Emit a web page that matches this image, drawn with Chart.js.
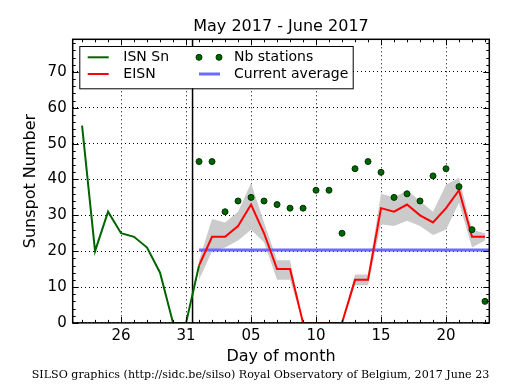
<!DOCTYPE html>
<html>
<head>
<meta charset="utf-8">
<script src="https://cdn.jsdelivr.net/npm/chart.js@4.4.1/dist/chart.umd.min.js"></script>
<style>
  html, body { margin: 0; padding: 0; background: #fff; }
  #wrap { width: 515px; height: 390px; }
</style>
</head>
<body>
<div id="wrap"><canvas id="chart" width="515" height="390"></canvas></div>
<script>
// days are counted from 1 May 2017 (June 1 = 32)
var isnDays = [23, 24, 25, 26, 27, 28, 29, 30, 31, 32];
var isnValues = [55, 20, 31, 25, 24, 21, 14, 0, 0, 16];

var eisnDays = [32, 33, 34, 35, 36, 37, 38, 39, 40, 41, 42, 43, 44, 45, 46, 47, 48, 49, 50, 51, 52, 53, 54];
var eisnValues = [16, 24, 24, 27, 33, 25, 15, 15, 0, 0, 0, 0, 12, 12, 32, 31, 33, 30, 28, 32, 37, 24, 24];
var eisnLow = [12, 20, 21, 23, 26, 22.5, 12, 12, 0, 0, 0, 0, 10.5, 10.5, 27.5, 27, 28.5, 27, 24.5, 26, 33.5, 21, 23];
var eisnHigh = [17.5, 29, 28, 31, 39, 28, 17.5, 17.5, 0, 0, 0, 0, 13.5, 13.5, 36, 35, 37, 34, 31, 38.5, 40.5, 26, 25];
var stationValues = [45, 45, 31, 34, 35, 34, 33, 32, 32, 37, 37, 25, 43, 45, 42, 35, 36, 34, 41, 43, 38, 26, 6];
var currentAverage = 20.3;
var lastIsnDay = 31.5;

var tickDays = [26, 31, 36, 41, 46, 51];
var tickLabels = ['26', '31', '05', '10', '15', '20'];
var yTicks = [0, 10, 20, 30, 40, 50, 60, 70];
var xMin = 22.28, xMax = 54.33, yMax = 79.1;

function pts(xs, ys) {
  return xs.map(function (x, i) { return {x: x, y: ys[i]}; });
}

Chart.defaults.font.family = 'DejaVu Sans';
Chart.defaults.color = '#000';

// major/minor ticks on all four sides + black frame
var frameTicks = {
  id: 'frameTicks',
  afterDatasetsDraw: function (chart) {
    var ctx = chart.ctx, a = chart.chartArea, xs = chart.scales.x, ys = chart.scales.y;
    ctx.save();
    ctx.strokeStyle = '#000';
    ctx.lineWidth = 1;
    ctx.beginPath();
    for (var d = Math.ceil(xs.min); d <= xs.max; d++) {
      var px = Math.round(xs.getPixelForValue(d)) + 0.5;
      var len = tickDays.indexOf(d) >= 0 ? 6 : 3;
      ctx.moveTo(px, a.bottom); ctx.lineTo(px, a.bottom - len);
      ctx.moveTo(px, a.top); ctx.lineTo(px, a.top + len);
    }
    for (var v = 0; v <= ys.max; v += 2) {
      var py = Math.round(ys.getPixelForValue(v)) + 0.5;
      var l2 = v % 10 === 0 ? 6 : 3;
      ctx.moveTo(a.left, py); ctx.lineTo(a.left + l2, py);
      ctx.moveTo(a.right, py); ctx.lineTo(a.right - l2, py);
    }
    ctx.stroke();
    ctx.lineWidth = 1.5;
    ctx.strokeRect(a.left, a.top, a.right - a.left, a.bottom - a.top);
    ctx.restore();
  }
};

// boxed two-column legend in the upper left of the plot
var boxLegend = {
  id: 'boxLegend',
  afterDraw: function (chart) {
    var ctx = chart.ctx, a = chart.chartArea;
    var x0 = a.left + 6.6, y0 = a.top + 6.7, w = 273.4, h = 42.3;
    var colSample = [8.4, 119.7], colText = [44, 154.7], rowY = [11.3, 28];
    ctx.save();
    ctx.fillStyle = '#fff';
    ctx.fillRect(x0, y0, w, h);
    ctx.strokeStyle = '#000';
    ctx.lineWidth = 1;
    ctx.strokeRect(x0 + 0.5, y0 + 0.5, w, h);
    ctx.font = '14px "DejaVu Sans"';
    ctx.textBaseline = 'middle';
    ctx.textAlign = 'left';
    var items = chart.data.datasets.filter(function (ds) { return ds.inLegend; });
    items.forEach(function (ds, i) {
      var col = Math.floor(i / 2), row = i % 2;
      var sx = x0 + colSample[col], sy = y0 + rowY[row];
      if (ds.showLine === false) {
        ctx.fillStyle = ds.pointBackgroundColor;
        ctx.strokeStyle = ds.pointBorderColor;
        ctx.lineWidth = 1;
        [0, 20].forEach(function (dx) {
          ctx.beginPath();
          ctx.arc(sx + dx, sy, 3, 0, Math.PI * 2);
          ctx.fill();
          ctx.stroke();
        });
      } else {
        ctx.strokeStyle = ds.borderColor;
        ctx.lineWidth = ds.borderWidth;
        ctx.beginPath();
        ctx.moveTo(sx, sy);
        ctx.lineTo(sx + 21, sy);
        ctx.stroke();
      }
      ctx.fillStyle = '#000';
      ctx.fillText(ds.label, x0 + colText[col], sy);
    });
    ctx.restore();
  }
};

new Chart(document.getElementById('chart'), {
  type: 'line',
  data: {
    datasets: [
      {
        label: 'EISN high',
        data: pts(eisnDays, eisnHigh),
        borderWidth: 0,
        pointRadius: 0,
        backgroundColor: '#cbcbcb',
        fill: '+1',
        order: 6
      },
      {
        label: 'EISN low',
        data: pts(eisnDays, eisnLow),
        borderWidth: 0,
        pointRadius: 0,
        fill: false,
        order: 6
      },
      {
        label: 'ISN Sn',
        inLegend: true,
        data: pts(isnDays, isnValues),
        borderColor: '#006400',
        borderWidth: 2,
        pointRadius: 0,
        order: 2
      },
      {
        label: 'EISN',
        inLegend: true,
        data: pts(eisnDays, eisnValues),
        borderColor: '#ff0000',
        borderWidth: 2,
        pointRadius: 0,
        order: 1
      },
      {
        label: 'Nb stations',
        inLegend: true,
        data: pts(eisnDays, stationValues),
        showLine: false,
        pointRadius: 3,
        pointBorderWidth: 1,
        pointBackgroundColor: '#006400',
        pointBorderColor: '#003300',
        order: 0
      },
      {
        label: 'Current average',
        inLegend: true,
        data: [{x: eisnDays[0], y: currentAverage}, {x: xMax, y: currentAverage}],
        borderColor: '#6b6bff',
        borderWidth: 3,
        pointRadius: 0,
        order: 3
      },
      {
        label: 'last ISN',
        data: [{x: lastIsnDay, y: 0}, {x: lastIsnDay, y: yMax}],
        borderColor: '#000',
        borderWidth: 1.5,
        pointRadius: 0,
        order: 4
      }
    ]
  },
  options: {
    responsive: false,
    animation: false,
    layout: { padding: { left: 0, right: 25.7, top: 0, bottom: 0 } },
    elements: { line: { tension: 0 } },
    scales: {
      x: {
        type: 'linear',
        min: xMin,
        max: xMax,
        afterBuildTicks: function (s) { s.ticks = tickDays.map(function (v) { return {value: v}; }); },
        afterFit: function (s) { s.height = 43.8; },
        ticks: {
          font: { size: 15 },
          padding: 4,
          maxRotation: 0,
          autoSkip: false,
          callback: function (v) { return tickLabels[tickDays.indexOf(v)]; }
        },
        grid: { color: '#000', lineWidth: 1, drawTicks: false },
        border: { display: false, dash: [1, 3] },
        title: { display: true, text: 'Day of month', font: { size: 16 }, padding: { top: 0, bottom: 0 } }
      },
      y: {
        min: 0,
        max: yMax,
        afterBuildTicks: function (s) { s.ticks = yTicks.map(function (v) { return {value: v}; }); },
        afterFit: function (s) { s.width = 72.7; },
        ticks: { font: { size: 15 }, padding: 6 },
        grid: { color: '#000', lineWidth: 1, drawTicks: false },
        border: { display: false, dash: [1, 3] },
        title: { display: true, text: 'Sunspot Number', font: { size: 16 }, padding: { top: 21.4, bottom: 0 } }
      }
    },
    plugins: {
      legend: { display: false },
      tooltip: { enabled: false },
      title: {
        display: true,
        fullSize: false,
        text: 'May 2017 - June 2017',
        font: { size: 16, weight: 'normal' },
        color: '#000',
        padding: { top: 17.5, bottom: 2.6 }
      },
      subtitle: {
        display: true,
        position: 'bottom',
        align: 'end',
        text: 'SILSO graphics (http://sidc.be/silso) Royal Observatory of Belgium, 2017 June 23',
        font: { family: 'DejaVu Serif', size: 11.1 },
        color: '#000',
        padding: { top: 2, bottom: 8 }
      }
    }
  },
  plugins: [frameTicks, boxLegend]
});
</script>
</body>
</html>
